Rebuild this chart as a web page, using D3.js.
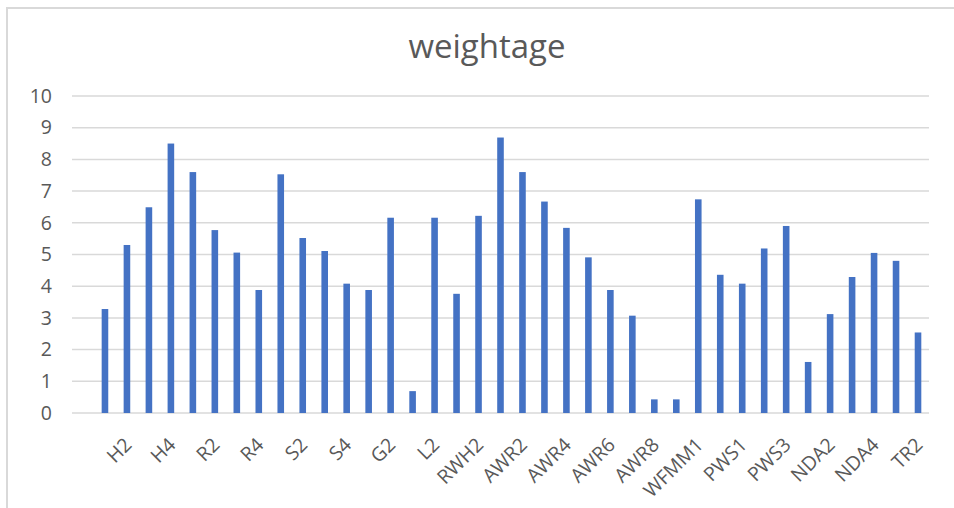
<!DOCTYPE html>
<html>
<head>
<meta charset="utf-8">
<script src="https://cdn.jsdelivr.net/npm/d3@7"></script>
<style>
  body { margin: 0; background: #fff; }
  text { font-family: "Open Sans", "Noto Sans", sans-serif; fill: #595959; }
</style>
</head>
<body>
<div id="chart"></div>
<script>
// categories (first slot is empty in the source sheet)
var categories = ["", "H1", "H2", "H3", "H4", "R1", "R2", "R3", "R4", "S1", "S2", "S3", "S4",
  "G1", "G2", "L1", "L2", "RWH1", "RWH2", "AWR1", "AWR2", "AWR3", "AWR4", "AWR5", "AWR6",
  "AWR7", "AWR8", "AWR9", "WFMM1", "WFMM2", "PWS1", "PWS2", "PWS3", "NDA1", "NDA2", "NDA3",
  "NDA4", "TR1", "TR2"];
var weightage = [null, 3.28, 5.30, 6.49, 8.50, 7.60, 5.77, 5.06, 3.88, 7.53, 5.52, 5.11, 4.08,
  3.88, 6.16, 0.69, 6.16, 3.76, 6.22, 8.69, 7.60, 6.67, 5.84, 4.91, 3.88,
  3.07, 0.43, 0.43, 6.74, 4.36, 4.08, 5.19, 5.90, 1.61, 3.12, 4.29,
  5.05, 4.80, 2.54];
var yTicks = [0, 1, 2, 3, 4, 5, 6, 7, 8, 9, 10];
var title = "weightage";

var width = 954, height = 508;
var margin = {top: 96, right: 25, bottom: 95, left: 72};

var svg = d3.select("#chart").append("svg")
  .attr("width", width)
  .attr("height", height);

// chart border
svg.append("rect")
  .attr("x", 7).attr("y", 8)
  .attr("width", width + 10).attr("height", height + 10)
  .attr("fill", "none")
  .attr("stroke", "#d9d9d9")
  .attr("stroke-width", 2);

var x = d3.scaleBand()
  .domain(categories.map((c, i) => i))
  .range([margin.left, width - margin.right])
  .paddingInner(0.7)
  .paddingOuter(0.35);

var y = d3.scaleLinear()
  .domain([0, 10])
  .range([height - margin.bottom, margin.top]);

// gridlines
svg.append("g")
  .selectAll("line")
  .data(yTicks)
  .join("line")
  .attr("x1", margin.left)
  .attr("x2", width - margin.right)
  .attr("y1", d => y(d))
  .attr("y2", d => y(d))
  .attr("stroke", "#d9d9d9")
  .attr("stroke-width", 1.5);

// y axis labels
var yAxis = svg.append("g")
  .attr("transform", `translate(${margin.left}, 0)`)
  .call(d3.axisLeft(y).tickValues(yTicks).tickSize(0).tickPadding(20));
yAxis.select(".domain").remove();
yAxis.selectAll("text")
  .attr("font-size", 19.5)
  .attr("font-family", null)
  .attr("fill", "#595959");

// bars
svg.append("g")
  .selectAll("rect")
  .data(weightage.map((v, i) => ({i: i, v: v})).filter(d => d.v != null))
  .join("rect")
  .attr("x", d => x(d.i))
  .attr("width", x.bandwidth())
  .attr("y", d => y(d.v))
  .attr("height", d => y(0) - y(d.v))
  .attr("fill", "#4472c4");

// x axis labels, every other category like the original
var xAxis = svg.append("g")
  .attr("transform", `translate(0, ${y(0)})`)
  .call(d3.axisBottom(x)
    .tickValues(categories.map((c, i) => i).filter(i => i % 2 == 0))
    .tickFormat(i => categories[i])
    .tickSize(0));
xAxis.select(".domain").remove();
xAxis.selectAll("text")
  .attr("font-size", 19.5)
  .attr("font-family", null)
  .attr("fill", "#595959")
  .attr("text-anchor", "end")
  .attr("dy", null)
  .attr("y", 0)
  .attr("transform", "translate(6, 33) rotate(-45)");

// title
svg.append("text")
  .attr("x", 487)
  .attr("y", 58)
  .attr("text-anchor", "middle")
  .attr("font-size", 33)
  .text(title);
</script>
</body>
</html>
